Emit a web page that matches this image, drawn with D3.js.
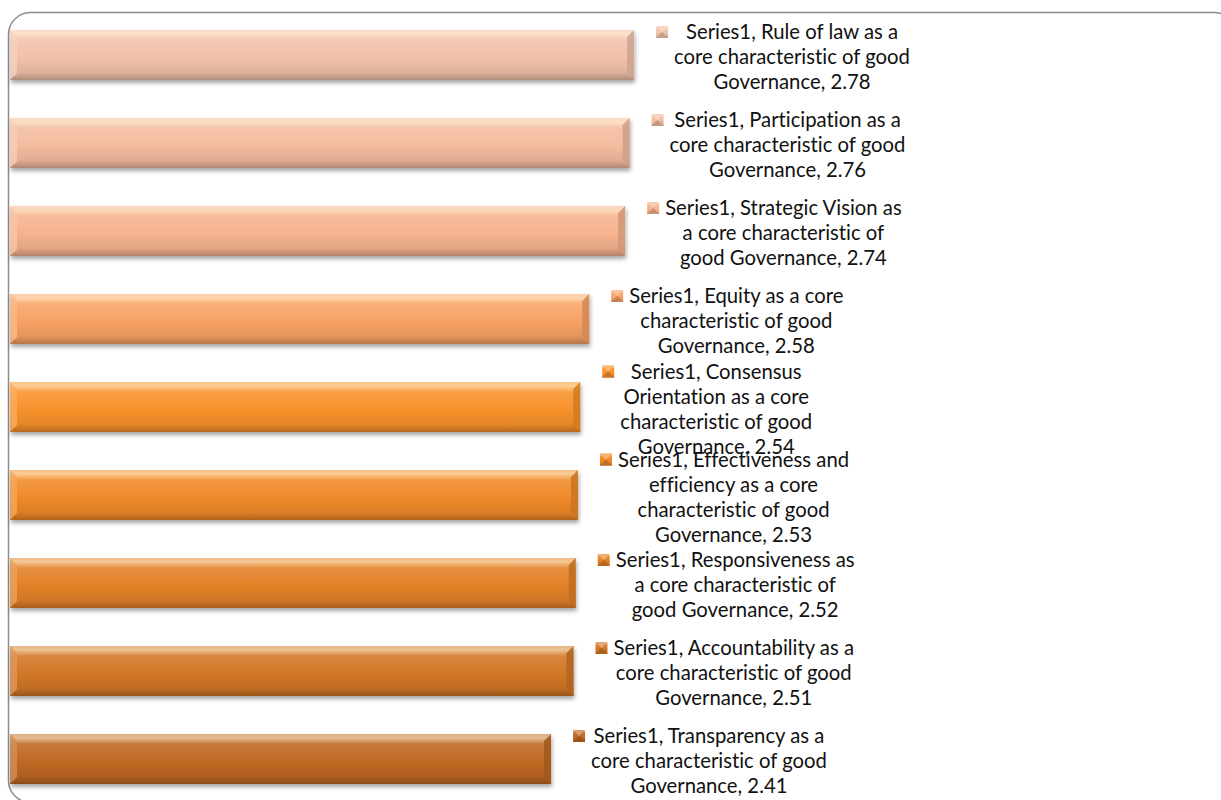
<!DOCTYPE html>
<html>
<head>
<meta charset="utf-8">
<script src="https://cdn.jsdelivr.net/npm/d3@7"></script>
<style>
  html, body { margin: 0; padding: 0; background: #fff; }
  svg { display: block; }
  text { font-variant-ligatures: none; font-feature-settings: "liga" 0, "clig" 0; }
</style>
</head>
<body>
<svg id="chart" width="1221" height="800"></svg>
<script>
// ---- data ----
const categories = [
  "Rule of law as a core characteristic of good Governance",
  "Participation as a core characteristic of good Governance",
  "Strategic Vision as a core characteristic of good Governance",
  "Equity as a core characteristic of good Governance",
  "Consensus Orientation as a core characteristic of good Governance",
  "Effectiveness and efficiency as a core characteristic of good Governance",
  "Responsiveness as a core characteristic of good Governance",
  "Accountability as a core characteristic of good Governance",
  "Transparency as a core characteristic of good Governance"
];
const values = [2.78, 2.76, 2.74, 2.58, 2.54, 2.53, 2.52, 2.51, 2.41];
const seriesName = "Series1";
const labelLines = [
  ["Series1, Rule of law as a", "core characteristic of good", "Governance, 2.78"],
  ["Series1, Participation as a", "core characteristic of good", "Governance, 2.76"],
  ["Series1, Strategic Vision as", "a core characteristic of", "good Governance, 2.74"],
  ["Series1, Equity as a core", "characteristic of good", "Governance, 2.58"],
  ["Series1, Consensus", "Orientation as a core", "characteristic of good", "Governance, 2.54"],
  ["Series1, Effectiveness and", "efficiency as a core", "characteristic of good", "Governance, 2.53"],
  ["Series1, Responsiveness as", "a core characteristic of", "good Governance, 2.52"],
  ["Series1, Accountability as a", "core characteristic of good", "Governance, 2.51"],
  ["Series1, Transparency as a", "core characteristic of good", "Governance, 2.41"]
];
const barColors = ["#f2c1ab", "#f4bca0", "#f6b38e", "#f8a266", "#f8922c", "#f08a2a", "#e38128", "#d27726", "#bf6823"];

// ---- layout ----
const svg = d3.select("#chart");
const x = d3.scaleLinear().domain([0, 5]).range([10, 10 + 5 * 224.5]);
const y = d3.scaleBand().domain(categories).range([11, 803]).paddingInner(38 / 88).paddingOuter(19 / 88);

const defs = svg.append("defs");
const shadow = defs.append("filter").attr("id", "shadow").attr("x", "-5%").attr("y", "-30%").attr("width", "115%").attr("height", "170%");
shadow.append("feDropShadow").attr("dx", 1).attr("dy", 3).attr("stdDeviation", 2.2).attr("flood-color", "#000").attr("flood-opacity", 0.35);

barColors.forEach((c, i) => {
  const base = d3.color(c);
  const g = defs.append("linearGradient").attr("id", "grad" + i).attr("x1", 0).attr("y1", 0).attr("x2", 0).attr("y2", 1);
  const stops = [
    [0, d3.interpolateRgb(c, "#ffffff")(0.45)],
    [0.08, d3.interpolateRgb(c, "#fff6d8")(0.6)],
    [0.2, d3.interpolateRgb(c, "#ffffff")(0.12)],
    [0.55, c],
    [0.85, base.darker(0.25).formatHex()],
    [1, base.darker(0.9).formatHex()]
  ];
  stops.forEach(s => g.append("stop").attr("offset", s[0]).attr("stop-color", s[1]));
});

// border
svg.append("rect")
  .attr("x", 8.5).attr("y", 12.5)
  .attr("width", 1228).attr("height", 790)
  .attr("rx", 22).attr("ry", 22)
  .attr("fill", "#fff").attr("stroke", "#8c8c8c").attr("stroke-width", 1.5);

// bars
const bars = svg.append("g").selectAll("g").data(categories).join("g");
bars.append("rect")
  .attr("x", x(0))
  .attr("y", d => y(d))
  .attr("width", (d, i) => x(values[i]) - x(0))
  .attr("height", y.bandwidth())
  .attr("fill", (d, i) => `url(#grad${i})`)
  .attr("filter", "url(#shadow)");

const bev = 7;
bars.append("path")
  .attr("d", d => {
    const x0 = x(0), y0 = y(d), h = y.bandwidth();
    return `M${x0},${y0} L${x0 + bev},${y0 + bev} L${x0 + bev},${y0 + h - bev} L${x0},${y0 + h} Z`;
  })
  .attr("fill", (d, i) => d3.interpolateRgb(barColors[i], "#ffffff")(0.25))
  .attr("opacity", 0.8);
bars.append("path")
  .attr("d", (d, i) => {
    const x1 = x(values[i]), y0 = y(d), h = y.bandwidth();
    return `M${x1},${y0} L${x1 - bev},${y0 + bev} L${x1 - bev},${y0 + h - bev} L${x1},${y0 + h} Z`;
  })
  .attr("fill", (d, i) => d3.color(barColors[i]).darker(0.45).formatHex())
  .attr("opacity", 0.9);

// labels
const lineH = 25;
const fontFamily = "Lato, 'Open Sans', sans-serif";
const probe = svg.append("text").attr("font-family", fontFamily).attr("font-size", 100).text("core characteristic of good");
const fontSize = 100 * 236 / probe.node().getComputedTextLength();
probe.remove();

const labels = svg.append("g").selectAll("g").data(categories).join("g");
labels.each(function (d, i) {
  const g = d3.select(this);
  const lines = labelLines[i];
  const barEnd = x(values[i]);
  const cy = y(d) + y.bandwidth() / 2 + 2;
  const top = cy - (lines.length * lineH) / 2;
  const t = g.append("text")
    .attr("font-family", fontFamily)
    .attr("font-size", fontSize)
    .attr("fill", "#111")
    .attr("text-anchor", "middle");
  const tspans = lines.map((ln, k) => t.append("tspan").attr("y", top + lineH * k + lineH / 2).attr("dy", "0.35em").text(ln));
  let maxW = 0;
  tspans.forEach(ts => { maxW = Math.max(maxW, ts.node().getComputedTextLength()); });
  const blockLeft = barEnd + 40;
  tspans.forEach(ts => ts.attr("x", blockLeft + maxW / 2));
  const mx = barEnd + 28, my = top + lineH / 2;
  const ms = 12;
  const mc = barColors[i];
  g.append("rect").attr("x", mx - ms / 2).attr("y", my - ms / 2).attr("width", ms).attr("height", ms)
    .attr("fill", `url(#grad${i})`);
  g.append("path")
    .attr("d", `M${mx - ms / 2},${my - ms / 2} L${mx},${my} L${mx + ms / 2},${my - ms / 2} Z`)
    .attr("fill", d3.interpolateRgb(mc, "#ffffff")(0.35));
  g.append("path")
    .attr("d", `M${mx - ms / 2},${my + ms / 2} L${mx},${my} L${mx + ms / 2},${my + ms / 2} Z`)
    .attr("fill", d3.color(mc).darker(0.6).formatHex());
});
</script>
</body>
</html>
